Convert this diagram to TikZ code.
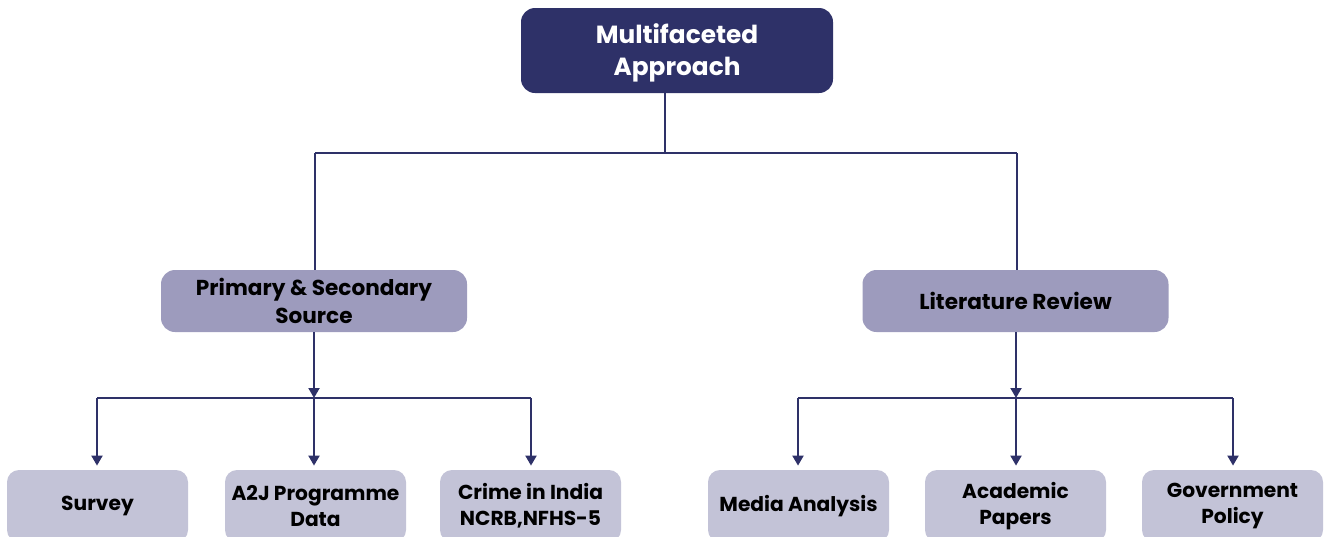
\documentclass[tikz,border=0pt]{standalone}
\usepackage{fontspec}
\setmainfont{Poppins}
\usetikzlibrary{arrows.meta}
\definecolor{navy}{HTML}{2E3168}
\definecolor{midbox}{HTML}{9D9BBD}
\definecolor{lightbox}{HTML}{C3C3D7}
\tikzset{
  topbox/.style={rectangle, rounded corners=7pt, fill=navy, text=white, font=\bfseries\fontsize{12.4}{16.2}\selectfont, align=center, minimum width=156pt, minimum height=42.5pt, inner sep=0pt},
  midbx/.style={rectangle, rounded corners=7pt, fill=midbox, text=black, font=\bfseries\fontsize{10.8}{14.2}\selectfont, align=center, minimum width=153pt, minimum height=31pt, inner sep=0pt},
  leafbox/.style={rectangle, rounded corners=6pt, fill=lightbox, text=black, font=\bfseries\fontsize{10.1}{13}\selectfont, align=center, minimum width=90.5pt, minimum height=36pt, inner sep=0pt},
  conn/.style={draw=navy, line width=1pt},
  arr/.style={conn, -{Triangle[length=5pt,width=5.5pt]}}
}
\begin{document}
\begin{tikzpicture}[x=0.5pt,y=-0.5pt]
\useasboundingbox (0,0) rectangle (1326,536);
\node[topbox] (top) at (677,50.5) {};
\node[font=\bfseries\fontsize{12.4}{16.2}\selectfont, text=white, align=center, inner sep=0pt] (toptxt) at (677,53) {Multifaceted\\Approach};
\node[midbx] (prim) at (314,301) {Primary \& Secondary\\Source};
\node[midbx] (lit) at (1015.5,301) {Literature Review};
\node[leafbox] (survey) at (97.5,506) {Survey};
\node[leafbox] (a2j) at (315.5,506) {A2J Programme\\Data};
\node[leafbox] (crime) at (530.5,506) {Crime in India\\NCRB,NFHS-5};
\node[leafbox] (media) at (798.5,506) {Media Analysis};
\node[leafbox] (acad) at (1015.5,506) {Academic\\Papers};
\node[leafbox] (gov) at (1232.5,506) {Government\\Policy};
\coordinate (jT) at (665,153);
\coordinate (jL) at (315,153);
\coordinate (jR) at (1017,153);
\coordinate (hL) at (314,398);
\coordinate (hLa) at (97,398);
\coordinate (hLb) at (531,398);
\coordinate (hR) at (1016,398);
\coordinate (hRa) at (798,398);
\coordinate (hRb) at (1233,398);
% top connectors
\draw[conn] (jT |- top.south) -- (jT);
\draw[conn] (jL) -- (jR);
\draw[conn] (jL) -- (jL |- prim.north);
\draw[conn] (jR) -- (jR |- lit.north);
% left group
\draw[arr] (hL |- prim.south) -- (hL);
\draw[conn] (hLa) -- (hLb);
\draw[arr] (hLa) -- ([yshift=2pt]hLa |- survey.north);
\draw[arr] (hL) -- ([yshift=2pt]hL |- a2j.north);
\draw[arr] (hLb) -- ([yshift=2pt]hLb |- crime.north);
% right group
\draw[arr] (hR |- lit.south) -- (hR);
\draw[conn] (hRa) -- (hRb);
\draw[arr] (hRa) -- ([yshift=2pt]hRa |- media.north);
\draw[arr] (hR) -- ([yshift=2pt]hR |- acad.north);
\draw[arr] (hRb) -- ([yshift=2pt]hRb |- gov.north);
\end{tikzpicture}
\end{document}
